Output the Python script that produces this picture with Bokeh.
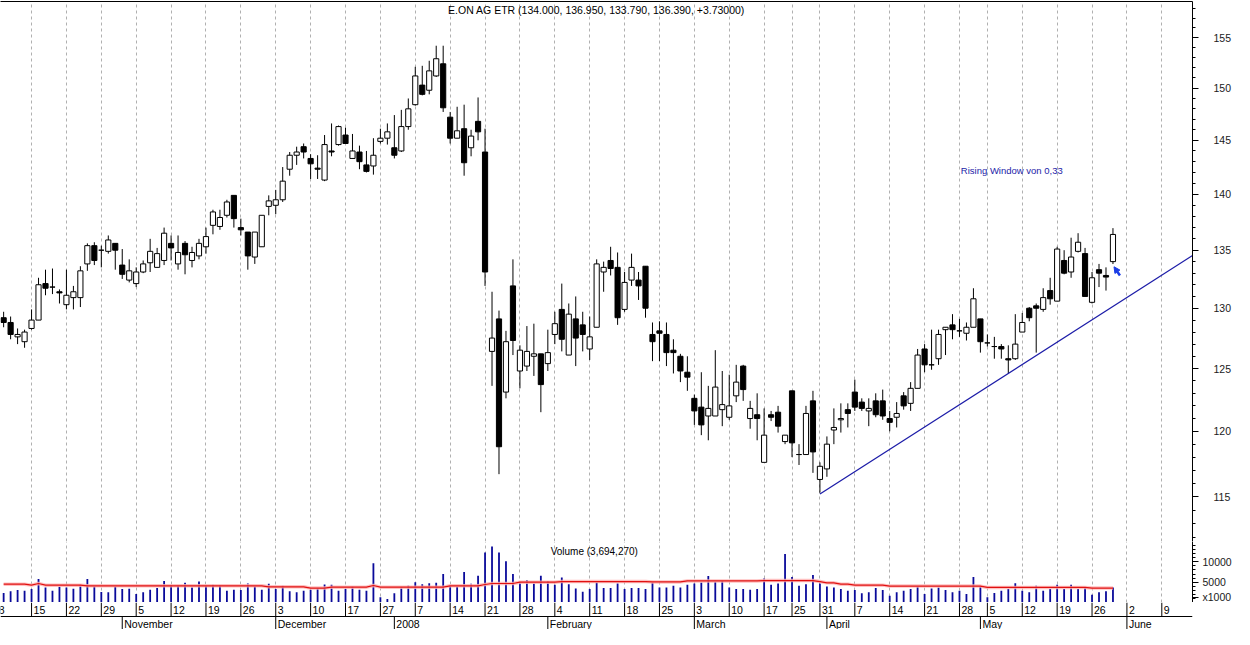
import math
import pandas as pd
from bokeh.plotting import figure
from bokeh.layouts import column
from bokeh.models import (ColumnDataSource, FixedTicker, LinearAxis, Range1d, Span,
                          Arrow, NormalHead, BasicTickFormatter)
from bokeh.core.properties import value
from bokeh.embed import file_html
from bokeh.resources import INLINE

FONT = "Liberation Sans"

# Xetra trading calendar (weekdays minus exchange holidays)
holidays = ["2007-12-24", "2007-12-25", "2007-12-26", "2007-12-31", "2008-01-01",
            "2008-03-21", "2008-03-24", "2008-05-01"]
days = pd.bdate_range("2007-10-08", "2008-06-30")
days = days[~days.isin(pd.to_datetime(holidays))]
pos = {d.strftime("%Y-%m-%d"): i for i, d in enumerate(days)}

# daily candles from 2007-10-09 to 2008-05-29 (one line per week)
first_day = "2007-10-09"
opens = [
    129.2, 128.8, 127.6, 127.2,
    128.3, 129.0, 132.1, 131.8, 131.4,
    130.3, 130.9, 130.9, 133.8, 135.4,
    135.0, 134.9, 135.6, 133.7, 132.4,
    132.1, 133.1, 133.9, 133.5, 134.1,
    135.6, 133.8, 135.6, 134.1, 134.5,
    135.3, 137.2, 137.1, 138.1, 139.9,
    137.0, 136.6, 134.4, 135.3, 138.9,
    139.0, 139.5, 142.3, 143.6, 144.4,
    143.3, 142.4, 141.3, 144.0, 144.6,
    145.5, 143.3, 143.9, 142.7, 142.6,
    144.9, 145.2,
    144.3, 144.0, 146.3,
    148.4, 150.3, 149.8, 151.2, 152.4,
    147.2, 145.2, 146.1, 144.3, 146.8,
    143.9, 126.4, 129.1, 123.1, 131.9,
    124.8, 125.2, 126.0, 126.2, 125.4,
    127.8, 129.9, 126.1, 129.1, 128.6,
    126.6, 128.4, 133.1, 134.1, 133.5,
    129.9, 132.4, 132.4, 133.6, 127.8,
    128.1, 127.8, 126.5, 126.0, 124.7,
    122.6, 121.9, 121.2, 121.2, 121.7,
    121.1, 122.8, 125.2, 121.0, 121.3,
    117.6, 121.3, 121.5, 119.2,
    123.2, 118.2, 118.2, 122.4,
    116.3, 117.1, 120.1, 120.9, 121.7,
    123.1, 122.3, 121.6, 122.4, 122.4,
    121.0, 121.1, 122.8, 122.2, 123.4,
    126.6, 125.3, 125.8, 128.2, 128.6,
    128.1, 127.9, 128.4, 129.1,
    127.1, 126.8, 126.8, 125.8, 125.8,
    128.0, 130.0, 130.2, 129.9, 131.5,
    130.6, 134.1, 133.1, 134.9, 134.7,
    130.5, 133.3, 132.8, 134.0,
]
highs = [
    129.7, 129.3, 128.3, 128.2,
    129.9, 132.6, 133.3, 133.4, 131.6,
    133.3, 131.9, 133.6, 135.6, 135.7,
    135.4, 136.3, 135.6, 135.1, 134.2,
    133.5, 134.1, 136.0, 135.2, 137.0,
    136.3, 136.3, 135.8, 135.3, 136.0,
    137.0, 138.6, 138.6, 139.5, 139.9,
    137.8, 136.6, 136.6, 138.1, 139.9,
    140.4, 142.5, 143.9, 144.4, 144.7,
    143.7, 143.6, 145.5, 146.6, 146.4,
    146.2, 145.6, 144.5, 144.0, 145.2,
    146.1, 146.6,
    147.4, 147.9, 149.0,
    152.1, 152.2, 152.7, 154.2, 154.2,
    147.7, 148.2, 148.4, 146.0, 149.1,
    146.1, 131.4, 129.8, 128.1, 134.2,
    126.9, 128.5, 128.7, 126.2, 128.2,
    129.7, 132.1, 130.4, 131.0, 129.7,
    129.3, 134.2, 134.0, 135.3, 134.8,
    133.1, 134.7, 133.1, 133.6, 128.8,
    128.9, 128.8, 127.4, 126.2, 126.0,
    122.9, 124.7, 123.6, 126.5, 124.8,
    124.5, 125.3, 125.3, 122.4, 123.0,
    121.8, 121.6, 122.0, 119.7,
    123.2, 119.0, 122.0, 123.2,
    117.6, 119.6, 121.8, 122.2, 122.2,
    124.1, 122.6, 122.6, 123.0, 123.3,
    121.6, 122.3, 123.1, 123.9, 126.6,
    127.0, 128.2, 128.2, 128.4, 129.5,
    129.1, 128.8, 131.7, 129.1,
    127.8, 127.6, 127.0, 126.9, 129.5,
    129.6, 130.1, 130.4, 131.7, 132.6,
    135.3, 135.0, 136.1, 136.5, 135.2,
    133.1, 133.8, 133.5, 136.95,
]
lows = [
    128.4, 127.4, 127.0, 126.7,
    128.2, 129.0, 131.1, 131.2, 130.4,
    129.9, 129.9, 130.1, 133.2, 133.7,
    133.5, 134.7, 133.3, 132.5, 132.2,
    131.8, 133.0, 133.1, 133.5, 133.7,
    134.1, 133.3, 132.9, 133.5, 134.2,
    134.7, 136.4, 136.8, 137.9, 137.0,
    136.3, 133.3, 133.8, 135.3, 138.1,
    138.2, 139.3, 141.7, 142.7, 143.3,
    141.4, 141.4, 141.2, 143.5, 144.5,
    144.7, 143.3, 142.3, 142.0, 141.8,
    144.7, 144.6,
    143.3, 143.9, 146.0,
    148.3, 149.3, 149.4, 151.1, 147.7,
    144.7, 145.2, 141.7, 143.5, 145.0,
    131.9, 123.6, 116.7, 122.6, 126.1,
    123.4, 124.8, 124.4, 121.5, 124.8,
    127.0, 126.4, 126.1, 125.2, 126.4,
    125.7, 128.4, 131.4, 132.8, 128.6,
    129.7, 131.9, 130.7, 129.2, 125.6,
    125.6, 125.2, 124.6, 123.9, 123.2,
    120.5, 119.7, 119.3, 121.2, 120.4,
    120.9, 122.3, 122.4, 120.2, 119.3,
    117.6, 120.8, 119.9, 119.0,
    118.0, 117.4, 118.2, 116.8,
    115.3, 116.5, 119.0, 119.9, 120.3,
    121.6, 121.6, 120.4, 121.1, 120.9,
    120.0, 120.3, 121.7, 121.6, 123.4,
    124.7, 124.9, 125.3, 126.1, 127.4,
    127.6, 127.3, 128.4, 126.3,
    126.8, 125.8, 125.8, 124.6, 125.7,
    128.0, 128.9, 126.3, 129.7, 130.3,
    130.6, 132.9, 132.6, 134.8, 131.0,
    130.4, 131.8, 131.5, 133.79,
]
closes = [
    128.8, 127.8, 127.8, 128.0,
    129.0, 132.0, 131.7, 131.8, 131.3,
    131.1, 131.4, 133.2, 135.4, 134.1,
    135.0, 135.9, 135.0, 132.9, 133.2,
    133.1, 133.8, 134.9, 134.7, 136.5,
    135.2, 134.8, 134.6, 134.8, 135.6,
    136.2, 138.4, 137.9, 139.3, 137.8,
    136.8, 134.5, 136.6, 138.1, 139.4,
    139.5, 141.2, 143.6, 143.9, 143.9,
    142.8, 142.3, 144.6, 143.9, 146.3,
    144.7, 144.0, 143.0, 142.1, 143.6,
    145.2, 145.8,
    143.6, 146.3, 148.0,
    151.2, 149.4, 151.7, 152.9, 148.1,
    145.2, 145.9, 142.9, 145.4, 145.8,
    133.1, 127.5, 118.8, 127.2, 127.3,
    126.5, 126.4, 126.2, 123.7, 126.3,
    128.7, 127.4, 129.5, 127.5, 127.8,
    127.6, 133.8, 133.5, 133.4, 129.2,
    132.2, 133.5, 131.9, 130.0, 127.2,
    127.9, 126.3, 126.3, 124.8, 124.3,
    121.6, 120.5, 121.8, 123.5, 122.1,
    122.0, 123.9, 123.3, 121.8, 121.0,
    119.7, 121.1, 120.4, 119.7,
    119.1, 118.2, 121.4, 118.4,
    117.3, 119.0, 120.3, 121.0, 121.4,
    121.9, 121.8, 121.8, 121.3, 121.2,
    120.7, 121.4, 122.0, 123.4, 126.1,
    125.3, 125.3, 127.8, 128.4, 128.2,
    128.1, 128.4, 130.8, 127.2,
    127.1, 126.8, 126.6, 125.7, 127.0,
    128.8, 129.2, 130.0, 130.9, 130.8,
    135.1, 133.0, 134.4, 135.7, 131.0,
    132.6, 133.0, 132.66, 136.39,
]
# volume in thousands of shares
volumes = [
    2340, 2740, 3060, 2900,
    3300, 5800, 3700, 2900, 3860,
    3700, 3380, 4350, 5800, 3950,
    2580, 2500, 3860, 3300, 3380,
    2090, 2500, 3140, 3540, 5310,
    4270, 4110, 4830, 3700, 5150,
    4030, 4350, 4190, 2900, 3140,
    3060, 4670, 3950, 3140, 4590,
    3300, 4110, 2740, 2500, 2900,
    3140, 3460, 4430, 4350, 2900,
    3300, 3860, 3140, 2900, 9660,
    1290, 890,
    2250, 3700, 4110,
    4990, 4510, 4750, 4830, 7000,
    4110, 3860, 7490, 4590, 6600,
    12320, 13770, 12320, 10140, 7000,
    4910, 5470, 4670, 6600, 5230,
    4350, 6120, 4510, 3460, 2660,
    3300, 4910, 3540, 3540, 4670,
    3300, 3540, 3540, 3300, 4910,
    3700, 3700, 4110, 3700, 4350,
    4670, 4910, 6520, 5070, 5310,
    3700, 3300, 3300, 3140, 3300,
    5880, 4350, 4670, 11910,
    6280, 4110, 4510, 6760,
    4670, 3950, 3700, 3300, 2900,
    3060, 2250, 2500, 3540, 3060,
    1690, 2500, 2900, 3300, 3860,
    2090, 3460, 3700, 3060, 2500,
    2900, 2090, 6280, 3950,
    1290, 2340, 2900, 3300, 4750,
    2900, 2500, 4110, 2900, 3300,
    4350, 3300, 4350, 3300, 3700,
    1930, 2500, 2740, 3694.27,
]
vol_avg = [
    4510, 4510, 4510, 4510,
    4270, 4670, 4270, 4270, 4270,
    4270, 4270, 4270, 4110, 4110,
    4110, 4110, 4110, 4110, 4110,
    4110, 4110, 4110, 4110, 4110,
    4110, 4110, 4110, 4110, 4110,
    4110, 4110, 4110, 4110, 4110,
    4110, 4110, 4110, 4110, 3860,
    3860, 3860, 3860, 3860, 3860,
    3540, 3540, 3540, 3780, 3780,
    3780, 3780, 3780, 3780, 4190,
    3780, 3780,
    3780, 3780, 3780,
    3780, 3780, 3780, 3780, 3780,
    4110, 4110, 4110, 4110, 4110,
    4430, 4670, 4670, 4670, 4670,
    4990, 4990, 4990, 4990, 4990,
    4990, 5150, 5150, 5150, 5150,
    5150, 5150, 5150, 5150, 5150,
    5150, 5150, 5150, 5150, 5070,
    5070, 5070, 5070, 5070, 5310,
    5310, 5310, 5310, 5310, 5310,
    5310, 5310, 5310, 5310, 5310,
    5390, 5390, 5390, 5390,
    5390, 5390, 5390, 5390,
    5150, 4830, 4830, 4510, 4510,
    4270, 4270, 4270, 4270, 4270,
    4030, 4030, 4030, 4030, 4030,
    4030, 4030, 4030, 4030, 4030,
    4030, 4030, 4030, 4030,
    3700, 3700, 3700, 3700, 3700,
    3700, 3700, 3700, 3700, 3700,
    3700, 3700, 3700, 3700, 3700,
    3540, 3540, 3540, 3540,
]
last_volume = 3694270

# trend line anchored on the two lows it touches
trend_dates = ["2008-03-31", "2008-05-08"]
trend_prices = [115.2, 124.6]

# axis labels
week_starts = ["2007-10-08", "2007-10-15", "2007-10-22", "2007-10-29", "2007-11-05",
               "2007-11-12", "2007-11-19", "2007-11-26", "2007-12-03", "2007-12-10",
               "2007-12-17", "2007-12-27", "2008-01-07", "2008-01-14", "2008-01-21",
               "2008-01-28", "2008-02-04", "2008-02-11", "2008-02-18", "2008-02-25",
               "2008-03-03", "2008-03-10", "2008-03-17", "2008-03-25", "2008-03-31",
               "2008-04-07", "2008-04-14", "2008-04-21", "2008-04-28", "2008-05-05",
               "2008-05-12", "2008-05-19", "2008-05-26", "2008-06-02", "2008-06-09"]
month_starts = ["2007-11-01", "2007-12-03", "2008-01-02", "2008-02-01", "2008-03-03",
                "2008-04-01", "2008-05-02", "2008-06-02"]
month_names = ["November", "December", "2008", "February", "March", "April", "May", "June"]
price_ticks = [115, 120, 125, 130, 135, 140, 145, 150, 155]
volume_ticks = [5000, 10000]
volume_unit = "x1000"

# ---------------------------------------------------------------------------
W, RB = 1234, 41
x0 = pos[first_day]
xs = [x0 + i for i in range(len(opens))]
week_x = [pos[d] for d in week_starts]
week_lbl = [str(int(d[-2:])) for d in week_starts]
month_x = [pos[d] for d in month_starts]

xr = Range1d(0.55, 171.4)
y_lo, y_hi = 111.7, 158.7

up = [c >= o for o, c in zip(opens, closes)]
candles = ColumnDataSource(dict(
    x=xs, high=highs, low=lows,
    top=[max(o, c) for o, c in zip(opens, closes)],
    bottom=[min(o, c) for o, c in zip(opens, closes)],
    fill=["white" if u else "black" for u in up],
))


def line_axis():
    return LinearAxis(ticker=FixedTicker(ticks=[]), major_label_text_font_size="0px",
                      major_tick_out=0, major_tick_in=0, minor_tick_out=0, minor_tick_in=0,
                      axis_line_color="black", axis_line_width=1)


def style_y(ax, ticks, minor, standoff):
    ax.ticker = FixedTicker(ticks=ticks, minor_ticks=minor)
    ax.formatter = BasicTickFormatter(use_scientific=False)
    ax.major_tick_out = 6
    ax.major_tick_in = 0
    ax.minor_tick_out = 3
    ax.minor_tick_in = 0
    ax.axis_line_color = "black"
    ax.major_tick_line_color = "black"
    ax.minor_tick_line_color = "black"
    ax.major_label_text_font = FONT
    ax.major_label_text_font_size = "10.5px"
    ax.major_label_text_color = "#1a1a1a"
    ax.major_label_standoff = standoff


def style_grid(fig):
    fig.xgrid.ticker = FixedTicker(ticks=week_x)
    fig.xgrid.grid_line_color = "#b0b0b0"
    fig.xgrid.grid_line_dash = "3 3"
    fig.ygrid.visible = False


# price panel
p = figure(width=W, height=541, x_range=xr, y_range=Range1d(y_lo, y_hi),
           y_axis_type="log", y_axis_location="right", output_backend="svg",
           toolbar_location=None, min_border=0, min_border_top=1, min_border_right=RB)
p.outline_line_color = None
style_grid(p)
style_y(p.yaxis[0], price_ticks, list(range(112, 159)), 15)
xa = p.xaxis[0]
xa.ticker = FixedTicker(ticks=[])
xa.major_label_text_font_size = "0px"
xa.major_tick_out = xa.major_tick_in = xa.minor_tick_out = xa.minor_tick_in = 0
xa.axis_line_color = "black"
p.add_layout(line_axis(), "above")

p.segment(x0="x", y0="low", x1="x", y1="high", source=candles, line_color="black", line_width=1)
p.vbar(x="x", width=0.74, top="top", bottom="bottom", source=candles,
       fill_color="fill", line_color="black", line_width=1)

# trend line extended to the right edge (straight on the log scale)
tx = [pos[d] for d in trend_dates]
slope = (math.log(trend_prices[1]) - math.log(trend_prices[0])) / (tx[1] - tx[0])
t_end = xr.end
p.line([tx[0], t_end], [trend_prices[0], math.exp(math.log(trend_prices[0]) + slope * (t_end - tx[0]))],
       line_color="#1c1ca8", line_width=1.2)


def price_at(frac_from_bottom):
    return math.exp(math.log(y_lo) + frac_from_bottom * (math.log(y_hi) - math.log(y_lo)))


o, h, l, c = opens[-1], highs[-1], lows[-1], closes[-1]
title = f"E.ON AG ETR ({o:.3f}, {h:.3f}, {l:.3f}, {c:.3f}, +{c - closes[-2]:.5f})"
p.text(x=[(xr.start + xr.end) / 2], y=[price_at(1 - 8 / 540)], text=[title],
       text_align="center", text_baseline="middle", text_font=value(FONT),
       text_font_size=value("10.5px"), text_color="black")

p.text(x=[138.2], y=[142.2], text=["Rising Window von 0,33"], text_align="left",
       text_baseline="middle", text_font=value(FONT), text_font_size=value("9.5px"),
       text_color="#1c1ca8")
p.add_layout(Arrow(end=NormalHead(size=6, fill_color="#1a3ce6", line_color="#1a3ce6"),
                   x_start=161.0, y_start=132.8, x_end=160.15, y_end=133.55,
                   line_color="#1a3ce6", line_width=2.5))

# volume panel
v = figure(width=W, height=61, x_range=xr, y_range=Range1d(0, 15000),
           y_axis_location="right", output_backend="svg", toolbar_location=None,
           min_border=0, min_border_right=RB)
v.outline_line_color = None
v.xaxis.visible = False
style_grid(v)
# the unit note sits just above the base of the volume scale
unit_pos = 1300
style_y(v.yaxis[0], [unit_pos] + volume_ticks, list(range(1000, 15000, 1000)), 4)
v.yaxis[0].major_label_overrides = {unit_pos: volume_unit}
v.segment(x0=xs, y0=[0] * len(xs), x1=xs, y1=volumes, line_color="#0a0a9a", line_width=1.8)
v.line(xs, vol_avg, line_color="#ffb0b0", line_width=3.5, line_alpha=0.8)
v.line(xs, vol_avg, line_color="#e01010", line_width=1.2)
v.text(x=[79.4], y=[12500], text=[f"Volume ({last_volume:,})"], text_align="left",
       text_baseline="middle", text_font=value(FONT), text_font_size=value("10px"),
       text_color="black")

# date rows (weeks above, months below)
d = figure(width=W, height=27, x_range=xr, y_range=Range1d(0, 27),
           output_backend="svg", toolbar_location=None, min_border=0, min_border_right=RB)
d.outline_line_color = None
d.xaxis.visible = False
d.yaxis.visible = False
d.xgrid.visible = False
d.ygrid.visible = False
d.segment(x0=week_x, y0=[13] * len(week_x), x1=week_x, y1=[27] * len(week_x), line_color="black")
d.segment(x0=month_x, y0=[0] * len(month_x), x1=month_x, y1=[13] * len(month_x), line_color="black")
d.add_layout(Span(location=13, dimension="width", line_color="black", line_width=1))
d.text(x=week_x, y=[20] * len(week_x), text=week_lbl, x_offset=2, text_align="left",
       text_baseline="middle", text_font=value(FONT), text_font_size=value("10.5px"),
       text_color="black")
d.text(x=month_x, y=[6] * len(month_x), text=month_names, x_offset=2, text_align="left",
       text_baseline="middle", text_font=value(FONT), text_font_size=value("10.5px"),
       text_color="black")

layout = column(p, v, d, spacing=0)
open("out.html", "w").write(file_html(layout, INLINE))
